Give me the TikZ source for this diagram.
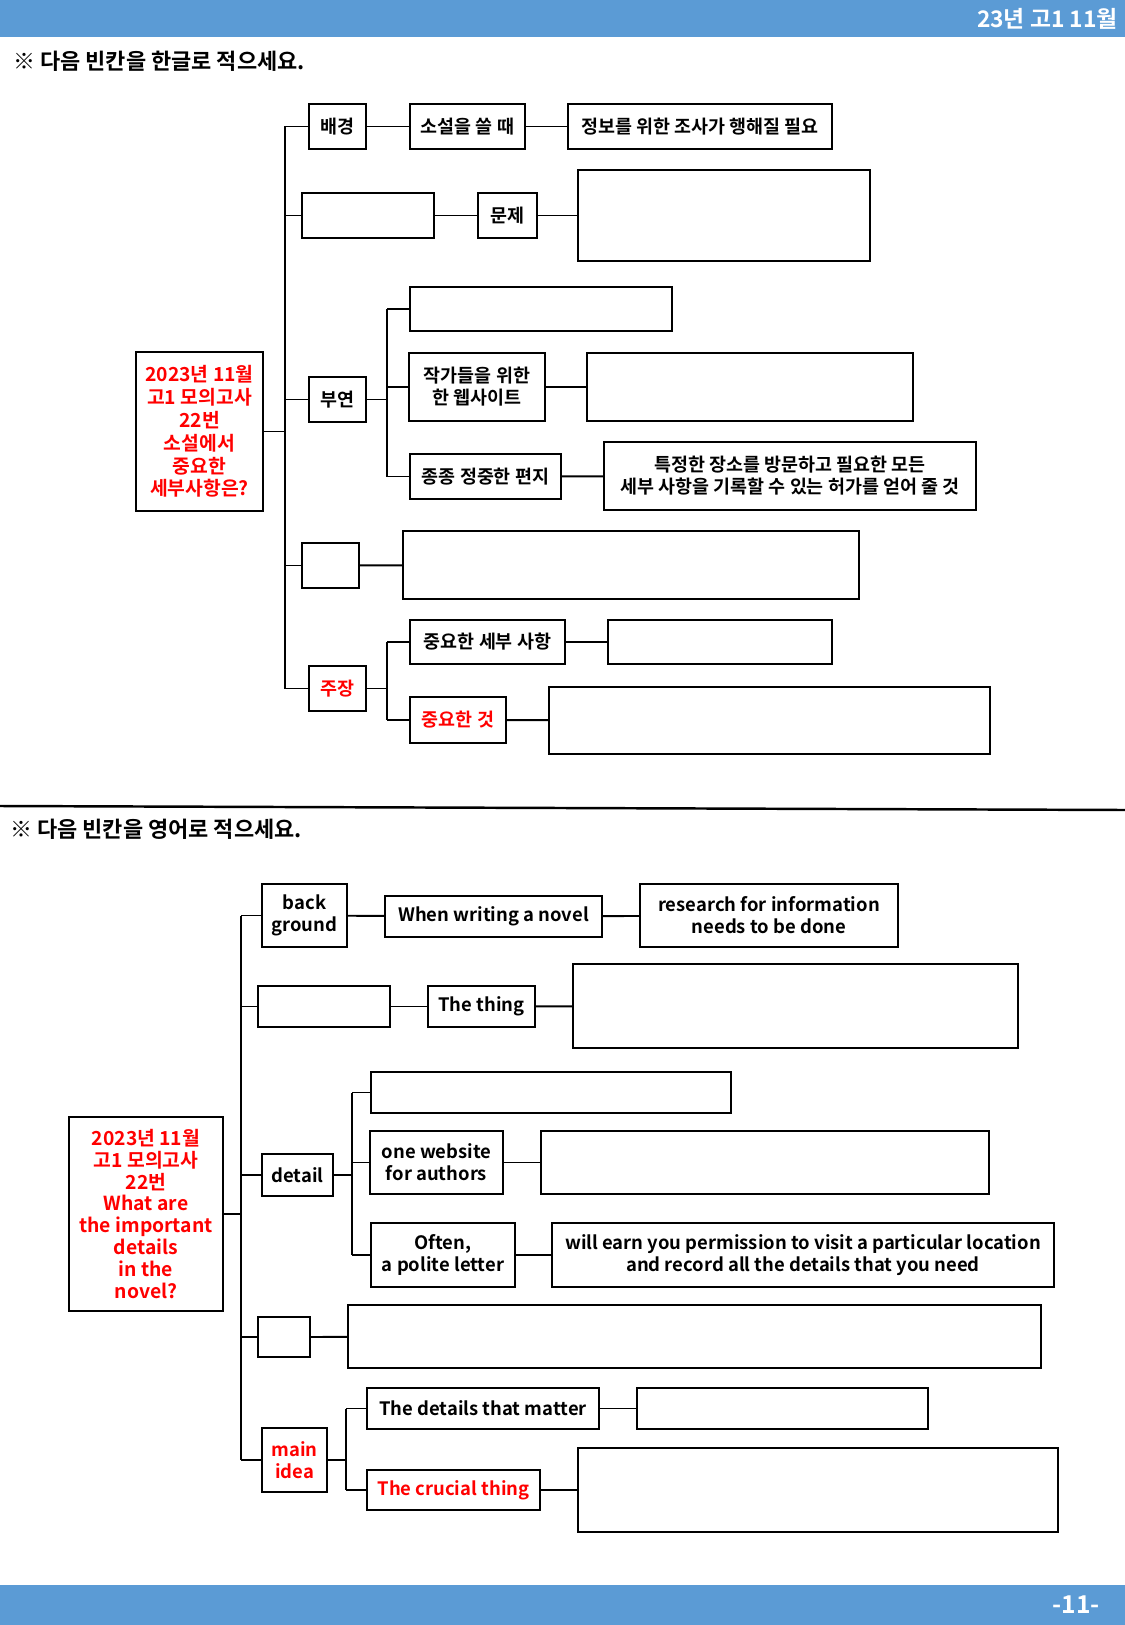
\documentclass[tikz,border=0pt]{standalone}
\usepackage{fontspec}
\setmainfont{Noto Sans CJK KR}[BoldFont={Noto Sans CJK KR Bold}]
\definecolor{barblue}{RGB}{91,155,213}
\definecolor{myred}{RGB}{255,0,0}
\begin{document}
\begin{tikzpicture}[x=0.02cm,y=-0.02cm,
  box/.style={draw, line width=1.1pt, outer sep=0pt, inner sep=1pt, align=center,
    font=\bfseries\fontsize{10.5}{12.5}\selectfont},
  sz/.style 2 args={minimum width=#1*0.02cm, minimum height=#2*0.02cm},
  ln/.style={line width=1.1pt},
  redtxt/.style={text=myred}]
\useasboundingbox (0,0) rectangle (1125,1625);
% bars
\fill[barblue] (0,0) rectangle (1125,37);
\fill[barblue] (0,1585) rectangle (1125,1625);
\node[anchor=east, text=white, font=\bfseries\fontsize{13}{15}\selectfont] (hdr) at (1124,19) {23년 고1 11월};
\node[anchor=east, text=white, font=\bfseries\fontsize{14}{15}\selectfont] (ftr) at (1106,1605) {-11-};
% instructions
\node[anchor=west, font=\bfseries\fontsize{12.5}{14}\selectfont, inner sep=0pt] (ins1) at (13,61) {※ 다음 빈칸을 한글로 적으세요.};
\node[anchor=west, font=\bfseries\fontsize{12.5}{14}\selectfont, inner sep=0pt] (ins2) at (10,829) {※ 다음 빈칸을 영어로 적으세요.};
\draw[line width=1.4pt] (0,806) -- (1125,810);

% ================= TOP =================
\node[box, sz={127}{159}, redtxt, font=\bfseries\fontsize{11}{13}\selectfont] (c1) at (199.5,431.5) {2023년 11월\\고1 모의고사\\22번\\소설에서\\중요한\\세부사항은?};
\node[box, sz={57}{45}] (a1) at (337.5,126.5) {배경};
\node[box, sz={115}{45}] (a2) at (467.5,126.5) {소설을 쓸 때};
\node[box, sz={264}{45}] (a3) at (700,126.5) {정보를 위한 조사가 행해질 필요};
\node[box, sz={132}{45}] (b1) at (368,215.5) {};
\node[box, sz={59}{45}] (b2) at (507.5,215.5) {문제};
\node[box, sz={292}{91}] (b3) at (724,215.5) {};
\node[box, sz={57}{45}] (d0) at (337.5,399.5) {부연};
\node[box, sz={262}{44}] (d1) at (541,309) {};
\node[box, sz={136}{68}] (d2) at (477,387) {작가들을 위한\\한 웹사이트};
\node[box, sz={326}{68}] (d2b) at (750,387) {};
\node[box, sz={151}{45}] (d3) at (485.5,476.5) {종종 정중한 편지};
\node[box, sz={372}{68}] (d3b) at (790,476) {특정한 장소를 방문하고 필요한 모든\\세부 사항을 기록할 수 있는 허가를 얻어 줄 것};
\node[box, sz={57}{45}] (e1) at (330.5,565.5) {};
\node[box, sz={456}{68}] (e2) at (631,565) {};
\node[box, sz={57}{45}, redtxt] (f0) at (337.5,688.5) {주장};
\node[box, sz={155}{44}] (f1) at (487.5,642) {중요한 세부 사항};
\node[box, sz={224}{44}] (f1b) at (720,642) {};
\node[box, sz={96}{46}, redtxt] (f2) at (458,720) {중요한 것};
\node[box, sz={441}{67}] (f2b) at (769.5,720.5) {};

\coordinate (t1) at (285,431.5);
\coordinate (s1) at (387,399.5);
\coordinate (s2) at (387,688.5);
\draw[ln] (c1.east) -- (t1);
\draw[ln] (285,126.5) -- (285,688.5);
\draw[ln] (t1 |- a1.west) -- (a1.west);
\draw[ln] (a1) -- (a2);
\draw[ln] (a2) -- (a3);
\draw[ln] (t1 |- b1.west) -- (b1.west);
\draw[ln] (b1) -- (b2);
\draw[ln] (b2) -- (b3);
\draw[ln] (t1 |- d0.west) -- (d0.west);
\draw[ln] (d0.east) -- (s1);
\draw[ln] (s1 |- d1.west) -- (s1 |- d3.west);
\draw[ln] (s1 |- d1.west) -- (d1.west);
\draw[ln] (s1 |- d2.west) -- (d2.west);
\draw[ln] (s1 |- d3.west) -- (d3.west);
\draw[ln] (d2) -- (d2b);
\draw[ln] (d3) -- (d3b);
\draw[ln] (t1 |- e1.west) -- (e1.west);
\draw[ln] (e1) -- (e2);
\draw[ln] (t1 |- f0.west) -- (f0.west);
\draw[ln] (f0.east) -- (s2);
\draw[ln] (s2 |- f1.west) -- (s2 |- f2.west);
\draw[ln] (s2 |- f1.west) -- (f1.west);
\draw[ln] (s2 |- f2.west) -- (f2.west);
\draw[ln] (f1) -- (f1b);
\draw[ln] (f2) -- (f2b);

% ================= BOTTOM =================
\node[box, sz={154}{194}, redtxt, font=\bfseries\fontsize{11}{12.5}\selectfont] (c2) at (146,1214) {2023년 11월\\고1 모의고사\\22번\\What are\\the important\\details\\in the\\novel?};
\node[box, sz={85}{63}] (g1) at (304.5,915.5) {back\\ground};
\node[box, sz={217}{41}] (g2) at (493.5,916.5) {When writing a novel};
\node[box, sz={258}{63}] (g3) at (769,915.5) {research for information\\needs to be done};
\node[box, sz={132}{41}] (h1) at (324,1006.5) {};
\node[box, sz={107}{41}] (h2) at (481.5,1006.5) {The thing};
\node[box, sz={445}{84}] (h3) at (795.5,1006) {};
\node[box, sz={71}{42}] (k0) at (297.5,1175) {detail};
\node[box, sz={360}{41}] (k1) at (551,1092.5) {};
\node[box, sz={133}{63}] (k2) at (436.5,1162.5) {one website\\for authors};
\node[box, sz={448}{63}] (k2b) at (765,1162.5) {};
\node[box, sz={144}{64}] (k3) at (443,1255) {Often,\\a polite letter};
\node[box, sz={502}{64}] (k3b) at (803,1255) {will earn you permission to visit a particular location\\and record all the details that you need};
\node[box, sz={52}{40}] (m1) at (284,1337) {};
\node[box, sz={693}{63}] (m2) at (694.5,1336.5) {};
\node[box, sz={65}{64}, redtxt] (n0) at (294.5,1460) {main\\idea};
\node[box, sz={232}{41}] (n1) at (483,1408.5) {The details that matter};
\node[box, sz={291}{41}] (n1b) at (782.5,1408.5) {};
\node[box, sz={173}{40}, redtxt] (n2) at (453.5,1490) {The crucial thing};
\node[box, sz={480}{84}] (n2b) at (818,1490) {};

\coordinate (t2) at (241,1214);
\coordinate (s3) at (352,1175);
\coordinate (s4) at (346,1460);
\draw[ln] (c2.east) -- (t2);
\draw[ln] (241,915.5) -- (241,1460);
\draw[ln] (t2 |- g1.west) -- (g1.west);
\draw[ln] (g1) -- (g2);
\draw[ln] (g2) -- (g3);
\draw[ln] (t2 |- h1.west) -- (h1.west);
\draw[ln] (h1) -- (h2);
\draw[ln] (h2) -- (h3);
\draw[ln] (t2 |- k0.west) -- (k0.west);
\draw[ln] (k0.east) -- (s3);
\draw[ln] (s3 |- k1.west) -- (s3 |- k3.west);
\draw[ln] (s3 |- k1.west) -- (k1.west);
\draw[ln] (s3 |- k2.west) -- (k2.west);
\draw[ln] (s3 |- k3.west) -- (k3.west);
\draw[ln] (k2) -- (k2b);
\draw[ln] (k3) -- (k3b);
\draw[ln] (t2 |- m1.west) -- (m1.west);
\draw[ln] (m1) -- (m2);
\draw[ln] (t2 |- n0.west) -- (n0.west);
\draw[ln] (n0.east) -- (s4);
\draw[ln] (s4 |- n1.west) -- (s4 |- n2.west);
\draw[ln] (s4 |- n1.west) -- (n1.west);
\draw[ln] (s4 |- n2.west) -- (n2.west);
\draw[ln] (n1) -- (n1b);
\draw[ln] (n2) -- (n2b);
\end{tikzpicture}
\end{document}
